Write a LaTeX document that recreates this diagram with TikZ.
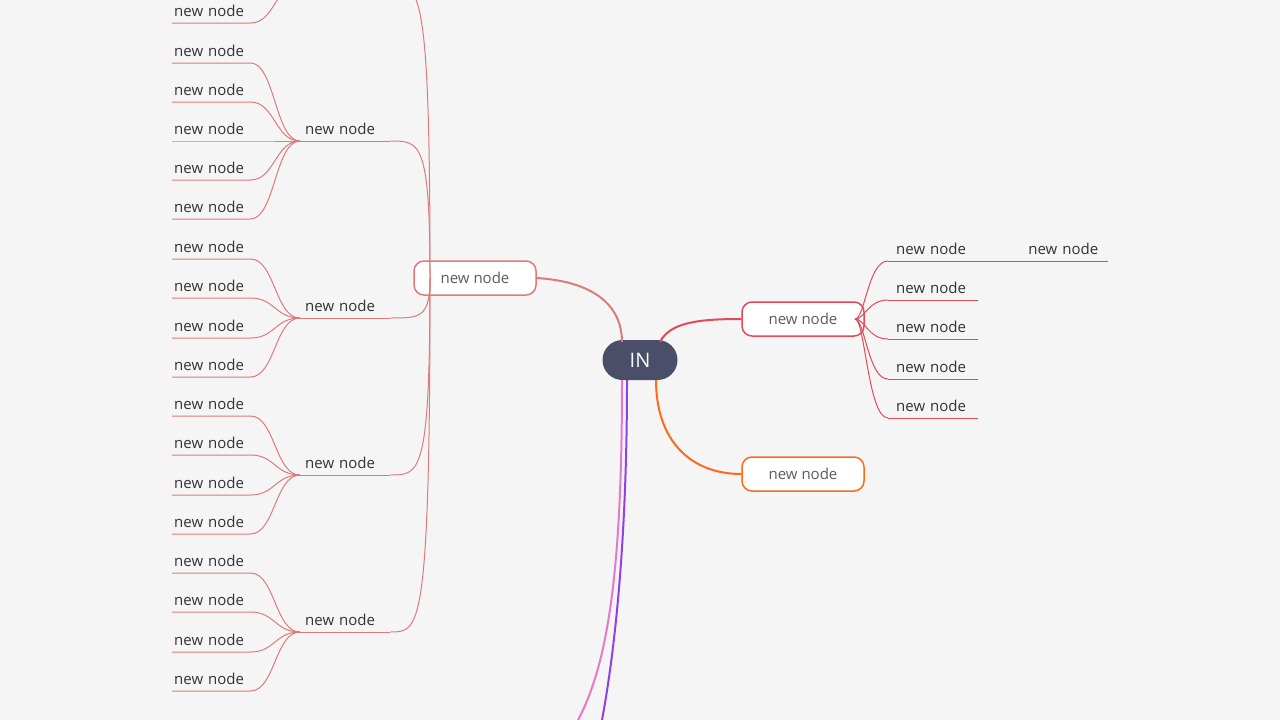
\documentclass[tikz,border=0pt]{standalone}
\usepackage{fontspec}
\setmainfont{Open Sans}
\usetikzlibrary{positioning}
\definecolor{bgc}{HTML}{F5F5F5}
\definecolor{inc}{HTML}{4A4E69}
\definecolor{lred}{HTML}{E07A7A}
\definecolor{rred}{HTML}{E24A5A}
\definecolor{orng}{HTML}{FF6A1A}
\definecolor{purp}{HTML}{9040E8}
\definecolor{pink}{HTML}{E878C8}
\definecolor{txt}{HTML}{333333}

\begin{document}
\begin{tikzpicture}[
  x=1pt, y=-1pt,
  font=\fontsize{15}{17}\selectfont,
  center/.style={fill=inc, text=white, rounded corners=20pt, minimum width=75pt, minimum height=40pt, font=\fontsize{20}{22}\selectfont},
  main/.style={draw, line width=1.5pt, fill=white, rounded corners=10pt, minimum width=122pt, minimum height=34pt, text=txt!80},
  leaf/.style={anchor=south west, inner ysep=6pt, inner xsep=2pt, text width=74pt, text=txt},
  sub/.style={anchor=south west, inner ysep=6pt, inner xsep=5pt, text width=80pt, text=txt}
]
\fill[bgc] (0,0) rectangle (1280,720);
\clip (0,0) rectangle (1280,720);
\coordinate (cx) at (275,0);

% Root and main branches
\node[center] (in) at (640,360) {IN};
\node[main, draw=lred] (ml) at (475,278) {new node};
\node[main, draw=rred] (mr) at (803,319) {new node};
\node[main, draw=orng] (mo) at (803,474) {new node};

\draw[lred, line width=2pt] (ml.east) .. controls (600,282) and (622,310) .. (622,342);
\draw[rred, line width=2pt] (660,342) .. controls (670,322) and (700,319) .. (mr.west);
\draw[orng, line width=2pt] (656,380) .. controls (656,440) and (690,474) .. (mo.west);
\draw[pink, line width=2pt] (622,380) .. controls (622,560) and (610,660) .. (578,720);
\draw[purp, line width=2pt] (627,380) .. controls (627,540) and (615,650) .. (602,720);

% Left sub branches
\foreach \n/\u in {s0/-16, s1/141, s2/318, s3/475, s4/632}{
  \node[sub] (\n) at (300,\u) {new node};
  \draw[lred, line width=1pt] (\n.south west) -- (\n.south east);
  \draw[lred, line width=1pt] (430,278) .. controls (430,\u) and (420,\u) .. (\n.south east);
}

% Left leaves
\foreach \p/\u in {s0/-16, s0/23, s1/63, s1/102, s1/141, s1/180, s1/219,
  s2/259, s2/298, s2/338, s2/377, s3/416, s3/455, s3/495, s3/534,
  s4/573, s4/612, s4/652, s4/691}{
  \node[leaf] (l\u) at (172,\u) {new node};
  \draw[lred, line width=1pt] (l\u.south west) -- (l\u.south east)
    .. controls (275,\u) and (\p.south west -| cx) .. (\p.south west);
}

% Right leaves
\foreach \u in {261, 300, 339, 379, 418}{
  \node[leaf, inner xsep=8pt] (r\u) at (888,\u) {new node};
  \draw[rred, line width=1pt] (r\u.south west) -- (r\u.south east);
  \draw[rred, line width=1pt] (855,319) .. controls (865,319) and (868,\u) .. (r\u.south west);
}
\node[leaf, text width=110pt, inner xsep=10pt, align=right] (rx) at (978,261) {new node};
\draw[rred, line width=1pt] (rx.south west) -- (rx.south east);
\end{tikzpicture}
\end{document}
